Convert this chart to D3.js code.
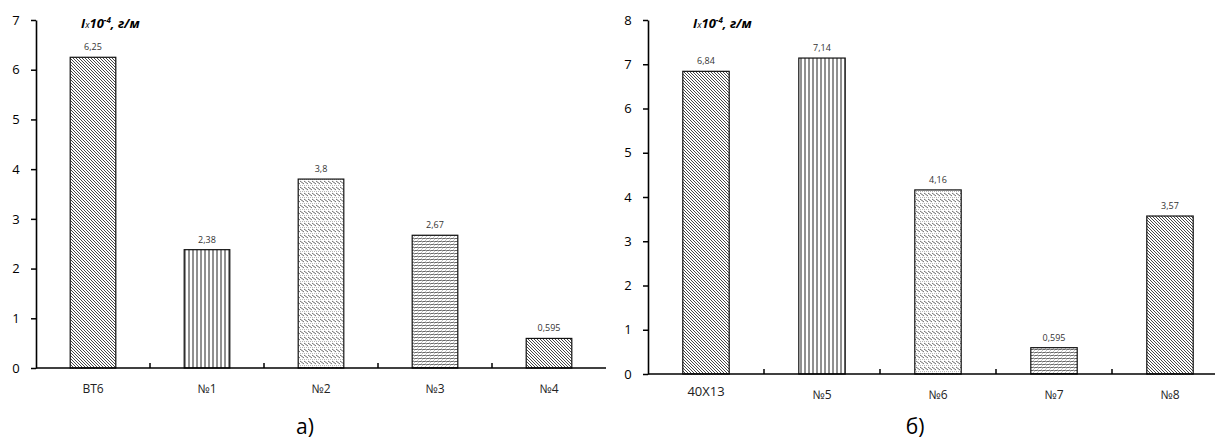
<!DOCTYPE html>
<html><head><meta charset="utf-8">
<script src="https://cdn.jsdelivr.net/npm/d3@7"></script>
<style>body{margin:0;background:#fff}text{font-family:"Open Sans","DejaVu Sans",sans-serif}</style>
</head><body>
<svg id="c" width="1215" height="444"></svg>
<script>
const catsA = ['ВТ6', '№1', '№2', '№3', '№4'];
const valsA = [6.25, 2.38, 3.8, 2.67, 0.595];
const labelsA = ['6,25', '2,38', '3,8', '2,67', '0,595'];
const catsB = ['40Х13', '№5', '№6', '№7', '№8'];
const valsB = [6.84, 7.14, 4.16, 0.595, 3.57];
const labelsB = ['6,84', '7,14', '4,16', '0,595', '3,57'];
const patterns = ['diag', 'vert', 'horiz', 'wave', 'diag'];

const svg = d3.select('#c');
const defs = svg.append('defs');

// fill patterns
const diag = defs.append('pattern').attr('id', 'diag').attr('patternUnits', 'userSpaceOnUse')
    .attr('width', 3).attr('height', 3);
diag.append('rect').attr('width', 3).attr('height', 3).attr('fill', '#fff');
diag.append('path').attr('d', 'M0,0L3,3M-1,2L1,4M2,-1L4,1').attr('stroke', '#333').attr('stroke-width', 0.9);

const vert = defs.append('pattern').attr('id', 'vert').attr('patternUnits', 'userSpaceOnUse')
    .attr('width', 4).attr('height', 4);
vert.append('rect').attr('width', 4).attr('height', 4).attr('fill', '#fff');
vert.append('path').attr('d', 'M1,0V4').attr('stroke', '#222').attr('stroke-width', 1);

const horiz = defs.append('pattern').attr('id', 'horiz').attr('patternUnits', 'userSpaceOnUse')
    .attr('width', 4).attr('height', 6);
horiz.append('rect').attr('width', 4).attr('height', 6).attr('fill', '#fff');
horiz.append('path').attr('d', 'M0,1L4,4').attr('stroke', '#444').attr('stroke-width', 0.8);
horiz.append('path').attr('d', 'M0,5.5H4').attr('stroke', '#888').attr('stroke-width', 0.6).attr('stroke-dasharray', '1,1');

const wave = defs.append('pattern').attr('id', 'wave').attr('patternUnits', 'userSpaceOnUse')
    .attr('width', 4).attr('height', 3);
wave.append('rect').attr('width', 4).attr('height', 3).attr('fill', '#fff');
wave.append('path').attr('d', 'M0,2Q1,0 2,1.5T4,1').attr('fill', 'none').attr('stroke', '#333').attr('stroke-width', 0.8);

function chart(cats, vals, labels, o) {
    const x = d3.scaleBand().domain(cats).range([o.x0, o.x0 + o.band * 5]).paddingInner(0.6).paddingOuter(0.3);
    const y = d3.scaleLinear().domain([0, o.max]).range([o.y0, 20]);
    const g = svg.append('g');

    g.selectAll('rect.bar').data(vals).join('rect')
        .attr('x', (d, i) => x(cats[i])).attr('width', x.bandwidth())
        .attr('y', d => y(d)).attr('height', d => o.y0 - y(d))
        .attr('fill', (d, i) => `url(#${patterns[i]})`)
        .attr('stroke', '#111').attr('stroke-width', 1.2);

    g.selectAll('text.val').data(vals).join('text')
        .attr('x', (d, i) => x(cats[i]) + x.bandwidth() / 2).attr('y', d => y(d) - 7)
        .attr('text-anchor', 'middle').attr('font-size', 9).attr('fill', '#333')
        .text((d, i) => labels[i]);

    const ya = g.append('g').attr('transform', `translate(${o.x0},0)`)
        .call(d3.axisLeft(y).ticks(o.max).tickSize(5).tickSizeOuter(0).tickFormat(d3.format('d')));
    ya.select('.domain').attr('stroke-width', 1.6);
    ya.selectAll('.tick line').attr('stroke-width', 1.5);
    ya.selectAll('.tick text').attr('font-size', 13).attr('x', -20).attr('text-anchor', 'middle');

    // x axis with ticks between categories
    g.append('line').attr('x1', o.x0).attr('x2', o.x0 + o.band * 5)
        .attr('y1', o.y0).attr('y2', o.y0).attr('stroke', '#000').attr('stroke-width', 1.6);
    g.selectAll('line.sep').data(d3.range(1, 5)).join('line')
        .attr('x1', i => o.x0 + i * o.band).attr('x2', i => o.x0 + i * o.band)
        .attr('y1', o.y0).attr('y2', o.y0 - 5).attr('stroke', '#000').attr('stroke-width', 1.5);
    g.selectAll('text.cat').data(cats).join('text')
        .attr('x', d => x(d) + x.bandwidth() / 2).attr('y', o.y0 + 25)
        .attr('text-anchor', 'middle').attr('fill', '#222')
        .attr('font-family', (d, i) => i === 0 && o.serifFirst ? 'Liberation Serif, serif' : null)
        .attr('font-size', (d, i) => i === 0 && o.serifFirst ? 13 : 12)
        .attr('dy', (d, i) => i === 0 && o.serifFirst ? -3 : 0)
        .text(d => d);

    const t = g.append('text').attr('x', o.x0 + 45).attr('y', 28)
        .attr('font-family', 'Liberation Serif, serif').attr('font-style', 'italic').attr('font-weight', 'bold')
        .attr('font-size', 13);
    t.append('tspan').text('I');
    t.append('tspan').attr('font-size', 9).attr('font-weight', 'normal').text('x');
    t.append('tspan').text('10');
    t.append('tspan').attr('font-size', 8).attr('dy', -5).text('-4');
    t.append('tspan').attr('dy', 5).text(', г/м');

    svg.append('text').attr('x', o.cap).attr('y', 434).attr('text-anchor', 'middle')
        .attr('font-size', 21).text(o.caption);
}

chart(catsA, valsA, labelsA, { x0: 36, band: 114, y0: 368, max: 7, cap: 305, caption: 'а)' });
chart(catsB, valsB, labelsB, { x0: 648, band: 116, y0: 374, max: 8, cap: 915, caption: 'б)', serifFirst: true });
</script>
</body></html>
